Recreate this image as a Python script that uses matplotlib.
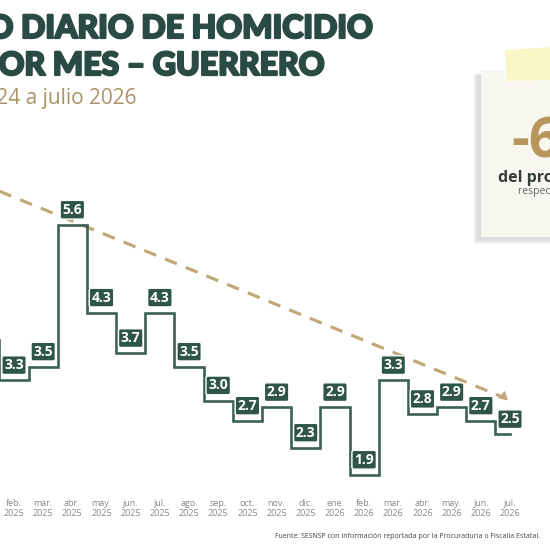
import matplotlib
matplotlib.use('Agg')
import matplotlib.pyplot as plt
import matplotlib.patheffects as pe
from matplotlib.patches import Rectangle, Polygon
from matplotlib.transforms import blended_transform_factory

# datos: promedio diario de homicidios por mes, ene 2025 .. jul 2026
meses = ['ene.', 'feb.', 'mar.', 'abr.', 'may.', 'jun.', 'jul.', 'ago.', 'sep.',
         'oct.', 'nov.', 'dic.', 'ene.', 'feb.', 'mar.', 'abr.', 'may.', 'jun.', 'jul.']
anios = ['2025'] * 12 + ['2026'] * 7
promedio = [3.9, 3.3, 3.5, 5.6, 4.3, 3.7, 4.3, 3.5, 3.0, 2.7, 2.9, 2.3,
            2.9, 1.9, 3.3, 2.8, 2.9, 2.7, 2.5]
tendencia_x = [0.5, 17.88]
tendencia_y = [6.1, 3.03]

verde = '#3b6152'
verde_caja = '#2e5545'
tan = '#c2a97a'

W = H = 550
fig = plt.figure(figsize=(5.5, 5.5), dpi=100)
fig.patch.set_facecolor('white')

ax = fig.add_axes([0, 0, 1, 1])
ax.set_xlim(0.52, 19.37)
ax.set_ylim(0.79, 8.93)
ax.axis('off')

x = list(range(len(promedio)))
ax.step(x, promedio, where='mid', color=verde, lw=1.9, zorder=3,
        solid_joinstyle='miter')

# linea de tendencia
ax.plot(tendencia_x, tendencia_y, color=tan, lw=2.3, dashes=(4, 3), zorder=2)
ax.annotate('', xy=(tendencia_x[1] + 0.12, tendencia_y[1] - 0.05),
            xytext=(tendencia_x[1] - 0.2, tendencia_y[1] + 0.07),
            arrowprops=dict(arrowstyle='-|>,head_length=0.6,head_width=0.35',
                            color=tan, lw=0.1), zorder=2)

for xi, v in zip(x, promedio):
    ax.annotate('%.1f' % v, (xi, v), xytext=(0, 11), textcoords='offset points',
                ha='center', va='center', fontsize=10, fontweight='bold',
                family='Open Sans', color='white', zorder=5,
                bbox=dict(boxstyle='round,pad=0.17,rounding_size=0.15',
                          fc=verde_caja, ec='white', lw=1.0))

# etiquetas de meses (ene. 2025 queda fuera del recorte)
tr = blended_transform_factory(ax.transData, ax.transAxes)
for xi, m, a in zip(x[1:], meses[1:], anios[1:]):
    ax.text(xi, 1 - 503 / H, m, transform=tr, ha='center', va='center',
            fontsize=6.5, color='#8a8a8a', family='Open Sans')
    ax.text(xi, 1 - 513 / H, a, transform=tr, ha='center', va='center',
            fontsize=6.5, color='#8a8a8a', family='Open Sans')

fig.text(540 / W, 1 - 537 / H,
         'Fuente: SESNSP con información reportada por la Procuraduría o Fiscalía Estatal.',
         ha='right', va='center', fontsize=5.0, color='#444444', family='Open Sans')

# titulo
titulo = '#2a4b44'
grueso = [pe.withStroke(linewidth=1.6, foreground=titulo)]
fig.text(373 / W, 1 - 38 / H, 'PROMEDIO DIARIO DE HOMICIDIO', ha='right',
         va='baseline', fontsize=23, fontweight='black', family='Lato',
         color=titulo, path_effects=grueso)
fig.text(325 / W, 1 - 75 / H, 'POR MES – GUERRERO', ha='right',
         va='baseline', fontsize=23, fontweight='black', family='Lato',
         color=titulo, path_effects=grueso)
fig.text(137 / W, 1 - 104 / H, 'enero 2024 a julio 2026', ha='right',
         va='baseline', fontsize=15, family='Open Sans', color='#a89466')

# nota
for i, a in enumerate([0.04, 0.06, 0.08, 0.1]):
    fig.patches.append(Rectangle(((478 - 1.5 * i) / W, 1 - (239 + 1.5 * i) / H),
                                 80 / W, 168 / H,
                                 transform=fig.transFigure, fc='#777777',
                                 ec='none', alpha=a, zorder=1))
fig.patches.append(Rectangle((481 / W, 1 - 237 / H), 75 / W, 167 / H,
                             transform=fig.transFigure, fc='#f8f7ef', ec='none', zorder=2))
fig.patches.append(Polygon([(505 / W, 1 - 50 / H), (555 / W, 1 - 47 / H),
                            (555 / W, 1 - 80 / H), (507 / W, 1 - 81 / H)],
                           closed=True, transform=fig.transFigure,
                           fc='#fbf6c6', ec='none', zorder=3))
fig.text(511 / W, 1 - 157 / H, '-60%', ha='left', va='baseline', fontsize=40,
         fontweight='bold', family='Open Sans', color='#b8955a', zorder=4)
fig.text(498 / W, 1 - 182 / H, 'del promedio', ha='left', va='baseline',
         fontsize=11.5, fontweight='bold', family='Open Sans', color='#353d39', zorder=4)
fig.text(518 / W, 1 - 194 / H, 'respecto a', ha='left', va='baseline',
         fontsize=7.5, family='Open Sans', color='#666666', zorder=4)

fig.savefig('out.png', dpi=100, facecolor='white')
